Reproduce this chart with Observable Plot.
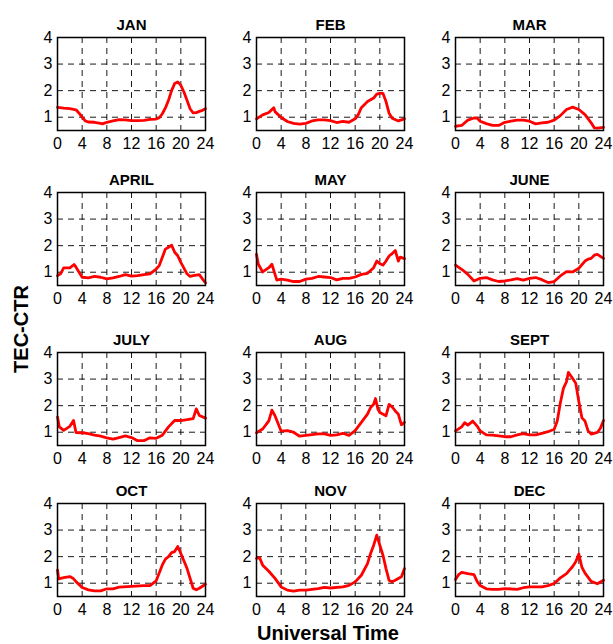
<!DOCTYPE html>
<html><head><meta charset="utf-8">
<script src="https://cdn.jsdelivr.net/npm/d3@7"></script>
<script src="https://cdn.jsdelivr.net/npm/@observablehq/plot@0.6"></script>
<style>
body{margin:0;background:#fff;font-family:"Liberation Sans",Arial,sans-serif;}
#fig{position:relative;width:613px;height:644px;overflow:hidden;background:#fff;}
.panel{position:absolute;width:200px;}
.panel svg{background:transparent !important;max-width:none !important;overflow:visible;}
#ylab{position:absolute;left:21px;top:329px;transform:translate(-50%,-50%) rotate(-90deg);font-weight:bold;font-size:20px;white-space:nowrap;}
#xlab{position:absolute;left:328px;top:633px;transform:translate(-50%,-50%);font-weight:bold;font-size:20px;white-space:nowrap;}
</style>
</head><body>
<div id="fig">
  <div id="ylab">TEC-CTR</div>
  <div id="xlab">Universal Time</div>
</div>
<script>
// Month titles
const months = ["JAN","FEB","MAR","APRIL","MAY","JUNE","JULY","AUG","SEPT","OCT","NOV","DEC"];
const xTicks = [0,4,8,12,16,20,24];
const yTicks = [1,2,3,4];

// [universal time (h), TEC-CTR]
const jan = [[0,1.37],[1,1.34],[2,1.32],[3,1.28],[3.5,1.15],[4,1.0],[4.5,0.86],[5,0.82],[6,0.81],[7,0.77],[7.3,0.75],[8,0.81],[9,0.86],[10,0.91],[11,0.9],[12,0.87],[13,0.87],[14,0.88],[15,0.92],[16,0.93],[16.5,0.98],[17,1.13],[17.5,1.35],[18,1.64],[18.5,2.0],[19,2.27],[19.5,2.33],[20,2.2],[20.5,1.95],[21,1.64],[21.5,1.32],[22,1.16],[22.5,1.17],[23,1.22],[23.5,1.26],[24,1.32]];
const feb = [[0,0.94],[1,1.09],[2,1.18],[2.8,1.36],[3,1.21],[4,0.99],[5,0.84],[6,0.77],[7,0.74],[8,0.77],[9,0.86],[10,0.9],[11,0.9],[12,0.87],[13,0.8],[14,0.84],[15,0.81],[16,0.94],[16.5,1.1],[17,1.36],[18,1.59],[19,1.72],[19.5,1.87],[20,1.9],[20.5,1.9],[21,1.59],[21.5,1.15],[22,0.96],[23,0.86],[23.5,0.9],[24,0.94]];
const mar = [[0,0.66],[1,0.69],[2,0.89],[3,0.97],[3.5,0.97],[4,0.85],[5,0.76],[6,0.69],[7,0.69],[8,0.81],[9,0.85],[10,0.89],[11,0.89],[12,0.85],[13,0.75],[14,0.79],[15,0.81],[16,0.89],[17,1.06],[18,1.29],[19,1.38],[20,1.29],[21,1.1],[22,0.79],[22.5,0.6],[23,0.59],[24,0.62]];
const apr = [[0,0.87],[0.5,0.94],[1,1.16],[2,1.16],[2.7,1.29],[3,1.19],[4,0.81],[5,0.79],[6,0.84],[7,0.81],[8,0.75],[9,0.79],[10,0.84],[11,0.91],[12,0.85],[13,0.87],[14,0.91],[15,0.94],[16,1.12],[16.5,1.25],[17,1.56],[17.5,1.87],[18,1.94],[18.5,2.02],[19,1.75],[19.5,1.62],[20,1.37],[21,0.94],[21.5,0.84],[22,0.87],[23,0.91],[23.5,0.75],[24,0.6]];
const may = [[0,1.67],[0.3,1.3],[1,1.01],[2,1.17],[2.5,1.3],[3,0.92],[3.3,0.7],[4,0.74],[5,0.7],[6,0.65],[7,0.65],[8,0.74],[9,0.77],[10,0.84],[11,0.82],[12,0.8],[13,0.71],[14,0.77],[15,0.77],[16,0.82],[17,0.92],[18,0.96],[19,1.17],[19.5,1.42],[20,1.32],[20.5,1.27],[21,1.42],[21.5,1.61],[22,1.7],[22.5,1.82],[23,1.42],[23.3,1.57],[24,1.51]];
const jun = [[0,1.27],[1,1.11],[2,0.92],[3,0.67],[4,0.77],[5,0.8],[6,0.71],[7,0.65],[8,0.67],[9,0.71],[10,0.76],[11,0.7],[12,0.77],[13,0.8],[14,0.72],[15,0.61],[16,0.65],[17,0.86],[18,1.02],[19,1.01],[20,1.15],[21,1.42],[21.5,1.49],[22,1.52],[22.5,1.64],[23,1.67],[24,1.52]];
const jul = [[0,1.57],[0.3,1.2],[1,1.07],[2,1.22],[2.6,1.44],[3,0.99],[4,0.98],[5,0.95],[6,0.89],[7,0.85],[8,0.79],[9,0.74],[10,0.8],[11,0.86],[12,0.8],[13,0.68],[14,0.68],[15,0.79],[16,0.77],[17,0.89],[18,1.2],[19,1.44],[20,1.44],[21,1.47],[22,1.51],[22.5,1.88],[23,1.63],[24,1.53]];
const aug = [[0,0.98],[1,1.12],[2,1.43],[2.5,1.83],[3,1.62],[4,1.04],[5,1.06],[6,1.0],[7,0.85],[8,0.88],[9,0.91],[10,0.94],[11,0.94],[12,0.88],[13,0.9],[14,0.96],[15,0.88],[16,1.06],[17,1.37],[18,1.68],[18.5,1.93],[19,2.05],[19.3,2.27],[19.7,1.86],[20,1.74],[21,1.62],[21.5,2.05],[22,1.95],[22.5,1.8],[23,1.68],[23.5,1.28],[24,1.37]];
const sep = [[0,1.05],[1,1.2],[1.5,1.36],[2,1.27],[2.8,1.42],[3.5,1.23],[4,1.05],[5,0.9],[6,0.89],[7,0.86],[8,0.83],[9,0.83],[10,0.9],[11,0.95],[12,0.9],[13,0.9],[14,0.96],[15,1.02],[16,1.11],[16.5,1.42],[17,2.1],[17.5,2.65],[18,2.9],[18.3,3.25],[19,3.02],[19.5,2.84],[20,2.16],[20.5,1.54],[21,1.42],[21.5,1.05],[22,0.93],[23,0.99],[23.5,1.15],[24,1.44]];
const oct = [[0,1.5],[0.2,1.16],[1,1.21],[2,1.25],[2.5,1.19],[3,1.06],[4,0.84],[5,0.75],[6,0.71],[7,0.71],[8,0.79],[9,0.79],[10,0.85],[12,0.88],[14,0.91],[15,0.91],[16,1.09],[17,1.69],[17.5,1.91],[18,2.0],[18.5,2.15],[19,2.19],[19.5,2.38],[20,2.12],[21,1.56],[22,0.81],[22.5,0.75],[23,0.81],[24,0.96]];
const nov = [[0,1.93],[0.5,1.96],[1,1.68],[2,1.45],[3,1.18],[4,0.86],[5,0.74],[6,0.7],[7,0.74],[8,0.74],[10,0.8],[11,0.84],[12,0.82],[14,0.86],[15,0.92],[16,1.05],[17,1.3],[18,1.74],[18.5,2.12],[19,2.43],[19.5,2.81],[20,2.43],[20.5,2.06],[21,1.55],[21.5,1.11],[22,1.05],[23,1.18],[23.5,1.24],[24,1.55]];
const dec = [[0,1.14],[0.5,1.32],[1,1.41],[2,1.36],[3,1.32],[3.5,1.07],[4,0.91],[5,0.79],[6,0.77],[7,0.77],[8,0.8],[10,0.77],[11,0.83],[12,0.86],[14,0.86],[15,0.91],[16,0.99],[17,1.2],[18,1.36],[19,1.63],[19.5,1.81],[20,2.1],[20.5,1.6],[21,1.38],[22,1.07],[23,0.98],[24,1.11]];

const series = [jan,feb,mar,apr,may,jun,jul,aug,sep,oct,nov,dec];

// layout of frames (left, top) in the figure
const colLeft = [57, 256, 455];
const rowTop = [37, 192, 352, 503];
const ML = 30, MR = 22, MT = 30, MB = 30, FW = 148, FH = 93;
const FONT = "'Liberation Sans', Arial, sans-serif";

const fig = document.getElementById("fig");
series.forEach((data, i) => {
  const r = Math.floor(i / 3), c = i % 3;
  const chart = Plot.plot({
    width: ML + FW + MR, height: MT + FH + MB,
    marginLeft: ML, marginRight: MR, marginTop: MT, marginBottom: MB,
    style: {fontFamily: FONT, fontSize: "16px", color: "#000", background: "transparent", overflow: "visible"},
    x: {domain: [0, 24], label: null},
    y: {domain: [0.5, 4], label: null},
    marks: [
      Plot.gridX(xTicks.slice(1, -1), {stroke: "#000", strokeOpacity: 0.9, strokeDasharray: "6,5"}),
      Plot.gridY(yTicks.slice(0, -1), {stroke: "#000", strokeOpacity: 0.9, strokeDasharray: "6,5"}),
      Plot.axisX(xTicks, {tickSize: 0, tickPadding: 7, tickFormat: d3.format("d"), fontSize: 16, fontFamily: FONT, fill: "#000", label: null}),
      Plot.axisY(yTicks, {tickSize: 0, tickPadding: 5, tickFormat: d3.format("d"), fontSize: 16, fontFamily: FONT, fill: "#000", label: null}),
      Plot.line(data, {x: d => d[0], y: d => d[1], stroke: "#ff0000", strokeWidth: 2.8, curve: "linear"}),
      Plot.frame({stroke: "#000", strokeWidth: 1.5}),
      Plot.text([months[i]], {frameAnchor: "top", dy: -18, fontWeight: "bold", fontSize: 15, fontFamily: FONT, fill: "#000"})
    ]
  });
  const div = document.createElement("div");
  div.className = "panel";
  div.style.left = (colLeft[c] - ML) + "px";
  div.style.top = (rowTop[r] - MT) + "px";
  div.appendChild(chart);
  fig.appendChild(div);
});
</script>
</body></html>
